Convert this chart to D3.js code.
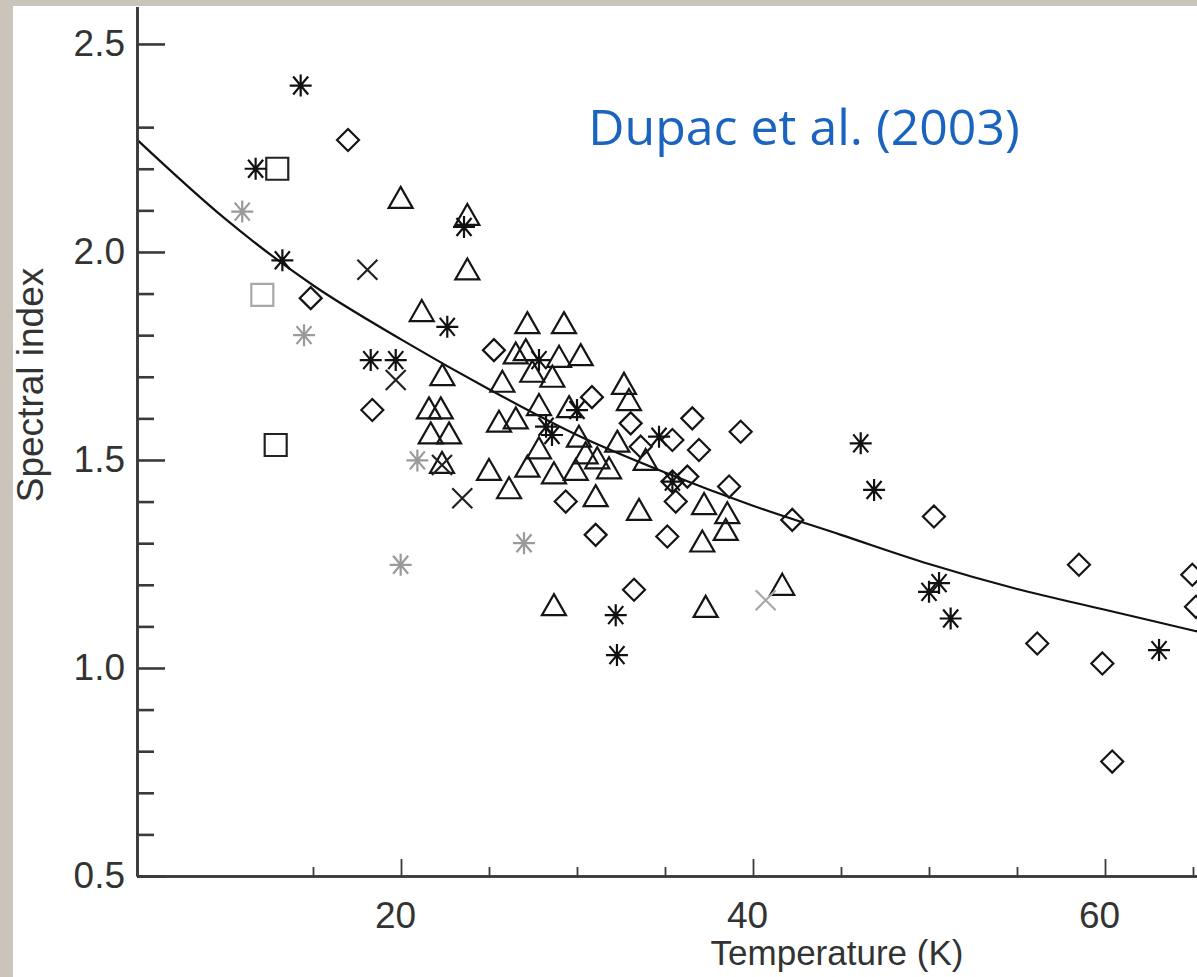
<!DOCTYPE html>
<html>
<head>
<meta charset="utf-8">
<script src="https://cdn.jsdelivr.net/npm/d3@7"></script>
<style>
  html, body { margin: 0; padding: 0; background: #cbc4ba; }
  svg { display: block; }
</style>
</head>
<body>
<svg id="chart" width="1197" height="977"></svg>
<script>
// ---------------- data (Temperature K, spectral index) ----------------
const asterisks = [
  [14.30,2.40],[11.74,2.20],[23.58,2.06],[13.26,1.98],[18.28,1.74],[19.70,1.74],
  [22.63,1.82],[27.84,1.74],[30.00,1.62],[28.24,1.58],[28.58,1.56],[34.66,1.556],
  [32.20,1.127],[32.27,1.031],[46.12,1.54],[46.88,1.428],[50.00,1.183],[50.57,1.204],
  [51.23,1.119],[63.07,1.043],[35.42,1.448]
];
const grayAsterisks = [
  [10.98,2.097],[14.49,1.80],[20.93,1.499],[19.98,1.248],[26.99,1.30]
];
const squares = [[12.97,2.20],[12.88,1.536]];
const graySquares = [[12.12,1.897]];
const crosses = [[18.09,1.957],[19.70,1.692],[22.33,1.488],[23.48,1.408]];
const grayCrosses = [[40.72,1.163]];
const diamonds = [
  [16.99,2.269],[14.87,1.889],[18.37,1.620],[25.28,1.764],[30.85,1.651],[33.05,1.588],
  [36.55,1.600],[39.30,1.568],[35.42,1.548],[33.62,1.532],[36.93,1.524],[35.42,1.448],
  [36.27,1.460],[38.64,1.436],[29.36,1.400],[35.61,1.400],[42.23,1.356],[31.06,1.320],
  [35.13,1.316],[33.24,1.188],[50.28,1.364],[58.52,1.248],[56.15,1.059],[59.85,1.011],
  [60.41,0.775],[64.96,1.224],[65.17,1.147]
];
const triangles = [
  [19.98,2.130],[23.77,2.089],[23.77,1.958],[21.18,1.858],[22.35,1.704],[21.59,1.624],
  [22.26,1.624],[21.69,1.564],[22.73,1.564],[22.33,1.493],[27.18,1.829],[29.26,1.829],
  [26.52,1.756],[27.09,1.764],[28.98,1.748],[30.21,1.752],[27.46,1.712],[28.60,1.700],
  [25.76,1.688],[27.84,1.632],[29.55,1.627],[25.57,1.592],[26.52,1.600],[27.84,1.528],
  [25.00,1.476],[27.18,1.484],[28.69,1.468],[29.93,1.476],[30.49,1.516],[30.11,1.556],
  [26.14,1.432],[32.67,1.683],[32.95,1.644],[32.29,1.544],[33.90,1.500],[31.15,1.504],
  [31.82,1.480],[31.06,1.413],[33.52,1.380],[37.22,1.394],[38.54,1.372],[38.45,1.332],
  [37.12,1.304],[28.69,1.151],[37.31,1.147],[41.66,1.200]
];
// fitted relation, values
const fitT = [5, 10, 15, 20, 25, 30, 35, 40, 45, 50, 55, 60, 65, 70];
const fitB = [2.27, 2.08, 1.92, 1.79, 1.67, 1.56, 1.47, 1.39, 1.32, 1.25, 1.19, 1.14, 1.09, 1.04];

const xMajor = [20, 40, 60];
const xMinor = [15, 25, 30, 35, 45, 50, 55, 65];
const yMajor = [0.5, 1.0, 1.5, 2.0, 2.5];
const yMinor = [0.6, 0.7, 0.8, 0.9, 1.1, 1.2, 1.3, 1.4, 1.6, 1.7, 1.8, 1.9, 2.1, 2.2, 2.3];

const titleText = "Dupac et al. (2003)";
const xLabel = "Temperature (K)";
const yLabel = "Spectral index";

// ---------------- layout ----------------
const svg = d3.select("#chart");
svg.append("rect").attr("x", 0).attr("y", 0).attr("width", 1197).attr("height", 977).attr("fill", "#cbc4ba");
svg.append("rect").attr("x", 13).attr("y", 6).attr("width", 1184).attr("height", 971).attr("fill", "#ffffff");

const x = d3.scaleLinear().domain([5, 70]).range([137, 1281]);
const y = d3.scaleLinear().domain([0.5, 2.59]).range([876, 6.5]);

const axisColor = "#3a3a3a";
const fontFam = "'Liberation Sans', Arial, sans-serif";

// fitted curve
const line = d3.line().x(d => x(d[0])).y(d => y(d[1])).curve(d3.curveMonotoneX);
svg.append("path")
  .datum(fitT.map((t, i) => [t, fitB[i]]))
  .attr("d", line)
  .attr("fill", "none")
  .attr("stroke", "#111")
  .attr("stroke-width", 2.2);

// markers
function shape(type) {
  switch (type) {
    case "diamond": return "M0,-11L11,0L0,11L-11,0Z";
    case "square": return "M-11,-11H11V11H-11Z";
    case "triangle": return "M0,-11L12,10L-12,10Z";
    case "cross": return "M-10,-10L10,10M-10,10L10,-10";
    case "asterisk": return "M-11,0H11M0,-11V11M-7.5,-9L7.5,9M-7.5,9L7.5,-9";
  }
}
function drawSeries(data, type, color) {
  svg.append("g").selectAll("path").data(data).join("path")
    .attr("transform", d => `translate(${x(d[0])},${y(d[1])})`)
    .attr("d", shape(type))
    .attr("fill", "none")
    .attr("stroke", color)
    .attr("stroke-width", 2.2)
    .attr("stroke-linejoin", "miter");
}
drawSeries(triangles, "triangle", "#151515");
drawSeries(diamonds, "diamond", "#151515");
drawSeries(squares, "square", "#222");
drawSeries(graySquares, "square", "#a8a8a8");
drawSeries(crosses, "cross", "#222");
drawSeries(grayCrosses, "cross", "#a8a8a8");
drawSeries(grayAsterisks, "asterisk", "#9a9a9a");
drawSeries(asterisks, "asterisk", "#111");

// axes
const yAxis = d3.axisLeft(y).tickValues(yMajor).tickFormat(d3.format(".1f"))
  .tickSizeInner(-28).tickSizeOuter(0).tickPadding(12);
const gy = svg.append("g").attr("transform", "translate(137,0)").call(yAxis);
const yAxisMinor = d3.axisLeft(y).tickValues(yMinor).tickFormat("").tickSizeInner(-17).tickSizeOuter(0);
const gym = svg.append("g").attr("transform", "translate(137,0)").call(yAxisMinor);

const xAxis = d3.axisBottom(x).tickValues(xMajor).tickFormat(d3.format("d"))
  .tickSizeInner(-17).tickSizeOuter(0).tickPadding(26);
const gx = svg.append("g").attr("transform", "translate(0,876)").call(xAxis);
const xAxisMinor = d3.axisBottom(x).tickValues(xMinor).tickFormat("").tickSizeInner(-9).tickSizeOuter(0);
const gxm = svg.append("g").attr("transform", "translate(0,876)").call(xAxisMinor);

[gy, gym, gx, gxm].forEach(g => {
  g.selectAll(".domain").attr("stroke", axisColor).attr("stroke-width", 2.6);
  g.selectAll(".tick line").attr("stroke", axisColor);
  g.selectAll("text").attr("font-family", fontFam).attr("font-size", 37).attr("fill", "#333");
});
gy.selectAll(".tick line").attr("stroke-width", 2.6);
gym.selectAll(".tick line").attr("stroke-width", 2.6);
gx.selectAll(".tick line").attr("stroke-width", 1.8);
gxm.selectAll(".tick line").attr("stroke-width", 1.8);
gx.selectAll(".tick text").attr("dx", -6);

// axis titles
svg.append("text")
  .attr("x", 837).attr("y", 965)
  .attr("text-anchor", "middle")
  .attr("font-family", fontFam).attr("font-size", 35).attr("fill", "#333")
  .text(xLabel);
svg.append("text")
  .attr("transform", "translate(43,385) rotate(-90)")
  .attr("text-anchor", "middle")
  .attr("font-family", fontFam).attr("font-size", 37).attr("fill", "#333")
  .text(yLabel);

// title
svg.append("text")
  .attr("x", 804).attr("y", 145)
  .attr("text-anchor", "middle")
  .attr("font-family", "'Open Sans', 'Noto Sans', sans-serif")
  .attr("font-size", 50).attr("fill", "#1a64c0")
  .text(titleText);
</script>
</body>
</html>
